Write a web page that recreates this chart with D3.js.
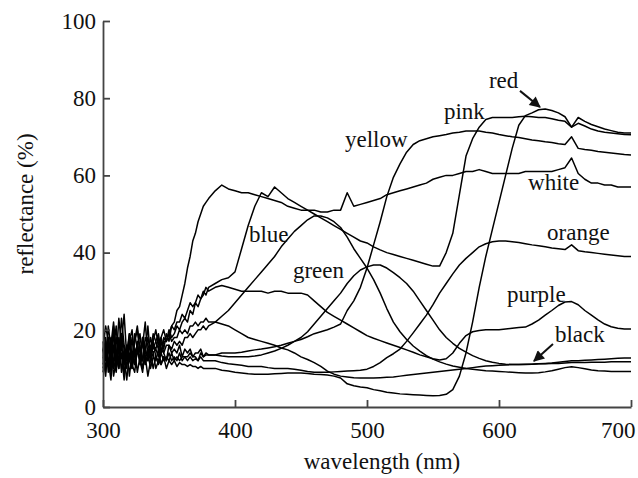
<!DOCTYPE html>
<html>
<head>
<meta charset="utf-8">
<script src="https://cdn.jsdelivr.net/npm/d3@7"></script>
<style>
body { margin: 0; background: #fff; }
svg text { font-family: "Liberation Serif", "DejaVu Serif", "Noto Serif", Times, serif; fill: #111; }
</style>
</head>
<body>
<div id="chart"></div>
<script>
var width = 638,
    height = 478;
var serif = '"Liberation Serif", "DejaVu Serif", "Noto Serif", Times, serif';

// wavelength grid (nm): 2 nm steps through the noisy UV part, 5 nm after that
var wavelengths = d3.range(300, 381, 2).concat(d3.range(385, 701, 5));

// reflectance (%), one value per wavelength
var white = [13,18,11,16,22,14,12,19,15,10,17,20,13,16,19,12,15,18,14,17,20,16,18,15,19,17,21,22,25,26,29,32,36,39,43,45,48,50,52,53,54,
  56,57.5,56.5,56,55.5,55.5,55,54.5,54,53.5, 53,52,51.5,51,51,51,50.5,50.5,51,51,
  55.5,52,52.5,53,53.5,54,55,55.5,56,56.5, 57,57.5,58,59,59.5,60,60,60.5,61,61,
  61.5,61,60.5,60.5,60.5,60.5,60.5,61,61,61, 61,61,61.5,62,64.5,60.5,59,58,58,57.5, 57.5,57,57,57];

var pink = [17,12,21,15,10,18,14,23,16,12,19,11,17,20,14,16,22,13,18,15,17,19,14,18,17,20,18,19,21,20,22,23,22,25,24,27,26,28,30,29,31,
  32,33,33.5,35,41,47,52,55.5,54.5,57, 55.5,54,53,52,51,50,49,48,47,46,
  45,44,43,42.5,41.5,40.7,40,39.5,39,38.5, 38,37.5,37,36.5,36.5,40,45,55,65,69.5,
  72.5,74.5,75,75,75,75,75.2,75.3,75.2,75, 75,74.7,74.3,74,72.5,73.5,72.8,72,71.5,71.2, 71,70.8,70.6,70.5];

var red = [9,14,11,16,8,12,15,10,13,7,14,11,9,15,12,10,13,8,12,14,10,12,11,13,10,12,11,12,10.5,11.5,11,11,10.5,11,10.5,10.5,10,10.5,10,10,10,
  10,9.5,9.3,9,8.8,8.6,8.5,8.5,8.5,8.6, 8.7,8.8,8.8,8.8,8.7,8.5,8.4,8.3,8,7.5,
  6,5.5,5.2,5,4.5,4.2,3.8,3.6,3.4,3.3, 3.2,3.1,3,2.9,3,3.3,4.5,8,14,22,
  31,39,46,53,60,67,73,75.5,76.2,77, 77.2,76.8,76.2,75.2,72.5,75,74,73.2,72.6,72, 71.6,71.2,71,71];

var yellow = [13,8,18,11,15,21,10,14,7,16,12,10,15,9,13,17,11,14,10,13,12,15,11,13,12,14,12,13,12,14,12,13,13,14,13,13,12,14,13,13.5,13.5,
  13.5,14,14,14,14.2,14.5,14.8,15,15.3,15.6, 16,16.5,17,17.5,18.2,19,19.5,20,20.7,21.5,
  25,27.5,31,36,42,48,54.5,59.5,63,66, 68,69,69.5,70,70.3,70.6,71,71.2,71.5,71.5,
  71.5,71.2,71,70.6,70.3,70,69.8,69.5,69.2,69, 68.7,68.5,68.2,68,70,67,66.7,66.5,66.2,66, 65.8,65.6,65.4,65.3];

var blue = [15,10,14,18,12,9,16,19,12,13,17,10,14,16,11,18,13,12,16,14,15,13,17,14,16,16,15,17,16,17,16,18,18,19,18,19,20,20,21,20,21,
  22,23.5,25,27,29,31,33,35,37,39, 41.5,43.5,45.5,47,48.5,49.5,49.5,49,48,46.5,
  44,41,38.5,36,33,29.5,25.5,22,19.5,17.5, 15.8,14.5,13.3,12.4,11.7,11.1,10.6,10.3,10,9.8,
  9.6,9.4,9.3,9.2,9.1,9,8.9,8.8,8.8,8.9, 9.1,9.4,9.8,10.2,10.4,10.2,9.9,9.6,9.4,9.3, 9.2,9.2,9.2,9.2];

var green = [11,17,9,14,19,10,13,16,8,15,12,18,11,14,16,10,13,15,12,17,13,12,15,14,12,16,14,15,14,16,13,15,14,15,13,14,14,15,13,14,13.5,
  13.5,13.2,13,13,13,13,13.2,13.5,14,14.5, 15.2,16,17,18,19.5,21.5,23.5,25.5,27.5,29.5,
  32,34,35.5,36.3,36.8,36.8,36,34.8,33.5,32, 30,27.5,25,22.5,20,18,16.5,15.2,14.2,13.3,
  12.6,12,11.6,11.3,11.1,11,11,11,11.1,11.2, 11.3,11.4,11.6,11.8,12,12,12.1,12.2,12.3,12.4, 12.5,12.6,12.7,12.7];

var black = [15,9,18,13,21,14,10,17,24,13,16,11,19,15,12,18,14,21,13,16,15,18,14,17,17,19,17,18,18,20,19,20,19,21,21,22,21,22,22,23,22,
  22,21.5,21,20,19,18,17.5,17,16.5,16, 15.3,14.8,14,13,12.3,11.5,10.5,9.3,8.5,8,
  7.8,7.6,7.5,7.5,7.5,7.6,7.7,7.8,8,8.2, 8.4,8.6,8.8,9,9.2,9.4,9.6,9.8,10,10.2,
  10.4,10.6,10.7,10.8,10.9,11,11,11.1,11.1,11.2, 11.2,11.3,11.3,11.4,11.5,11.5,11.5,11.6,11.6,11.6, 11.7,11.7,11.7,11.7];

var purple = [15,21,17,9,20,12,23,16,11,14,19,13,17,21,15,12,18,16,14,19,17,15,18,20,17,19,21,20,22,22,24,23,25,27,26,27,29,28,29,31,30,
  31,31.5,31,30.5,30,30,30,30,29.5,30, 30,29.5,29.5,29.5,29,27.5,26,24.5,23.5,22.5,
  21.5,20.5,19.5,18.5,17.8,17.2,16.6,16,15.4,14.8, 14.2,13.5,13,12.5,12.2,12.5,14,16.5,18.5,19.5,
  19.8,20,20,20,20.2,20.4,20.6,20.7,21.5,22.5, 23.8,25,26.3,27.2,27.3,26.5,25,23.8,22.6,21.5, 20.8,20.4,20.2,20.2];

var orange = [10,15,12,7,16,11,18,9,13,16,8,14,11,17,12,9,15,12,14,10,13,11,14,12,13,12,14,12,13,12,13,13,12,13,12,12.5,12,13,12,12,12,
  12,11.5,11.2,11,10.8,10.5,10.5,10.5,10.2,10, 10,10,9.8,9.5,9.2,9,9,9,9.1,9.2,
  9.3,9.4,9.5,9.8,10.5,11.5,12.8,13.8,15,17, 19.2,21.5,23.8,26.5,29.5,32,34.5,36.8,38.5,40,
  41.5,42.3,42.8,43,43,42.8,42.6,42.3,42,41.8, 41.5,41.2,41,40.8,42,40.5,40.2,40,39.8,39.6, 39.4,39.2,39,39];

var curves = [
  {name: "white", values: white},
  {name: "pink", values: pink},
  {name: "red", values: red},
  {name: "yellow", values: yellow},
  {name: "blue", values: blue},
  {name: "green", values: green},
  {name: "black", values: black},
  {name: "purple", values: purple},
  {name: "orange", values: orange}
];

// curve labels, placed in data units (nm, %) at the text start / baseline
var labelNames = ["red", "pink", "yellow", "white", "orange", "blue", "green", "purple", "black"];
var labelX = [592.4, 558.3, 483.3, 622, 636.4, 410.6, 443.9, 606, 642.4];
var labelY = [82.6, 74.6, 67.4, 56.2, 43.3, 42.7, 33.4, 27.2, 16.8];

// pointer arrows [from nm, from %, to nm, to %]
var arrows = [[615.9, 81.9, 631, 77.7], [640.9, 16.3, 626.5, 11.9]];

var xTicks = [300, 400, 500, 600, 700];
var yTicks = [0, 20, 40, 60, 80, 100];

var svg = d3.select("#chart").append("svg")
    .attr("width", width)
    .attr("height", height);

var x = d3.scaleLinear().domain([300, 700]).range([103, 631]);
var y = d3.scaleLinear().domain([0, 100]).range([407, 21]);

svg.append("defs").append("marker")
    .attr("id", "arrowhead")
    .attr("viewBox", "0 0 10 10")
    .attr("refX", 9)
    .attr("refY", 5)
    .attr("markerUnits", "userSpaceOnUse")
    .attr("markerWidth", 13)
    .attr("markerHeight", 11)
    .attr("orient", "auto")
    .append("path")
    .attr("d", "M0,0L10,5L0,10z")
    .attr("fill", "#111");

// spectra
var line = d3.line()
    .x(function (d, i) { return x(wavelengths[i]); })
    .y(function (d) { return y(d); });

svg.append("g").selectAll("path")
    .data(curves)
    .enter().append("path")
    .attr("d", function (d) { return line(d.values); })
    .attr("fill", "none")
    .attr("stroke", "#000")
    .attr("stroke-width", 1.5)
    .attr("stroke-linejoin", "round");

// axes, ticks pointing inwards
var xAxis = svg.append("g")
    .attr("transform", "translate(0," + y(0) + ")")
    .call(d3.axisBottom(x).tickValues(xTicks).tickSize(-7).tickSizeOuter(0).tickPadding(15));

var yAxis = svg.append("g")
    .attr("transform", "translate(" + x(300) + ",0)")
    .call(d3.axisLeft(y).tickValues(yTicks).tickSize(-7).tickSizeOuter(0).tickPadding(7));

[xAxis, yAxis].forEach(function (g) {
    g.attr("font-family", serif);
    g.select(".domain").attr("stroke", "#444").attr("stroke-width", 1.8);
    g.selectAll(".tick line").attr("stroke", "#444").attr("stroke-width", 1.8);
    g.selectAll(".tick text")
        .attr("fill", "#111")
        .style("font-family", serif)
        .style("font-size", "23px");
});

// last x label is pulled in so it stays inside the picture
xAxis.selectAll(".tick text")
    .filter(function (d) { return d === 700; })
    .attr("text-anchor", "end")
    .attr("x", 4);

svg.append("text")
    .attr("x", 382)
    .attr("y", 469)
    .attr("text-anchor", "middle")
    .style("font-family", serif)
    .style("font-size", "23px")
    .text("wavelength (nm)");

svg.append("text")
    .attr("transform", "translate(33,204) rotate(-90)")
    .attr("text-anchor", "middle")
    .style("font-family", serif)
    .style("font-size", "23px")
    .text("reflectance (%)");

// curve labels
svg.append("g").selectAll("text")
    .data(labelNames)
    .enter().append("text")
    .attr("x", function (d, i) { return x(labelX[i]); })
    .attr("y", function (d, i) { return y(labelY[i]); })
    .style("font-family", serif)
    .style("font-size", "23px")
    .text(function (d) { return d; });

svg.append("g").selectAll("line")
    .data(arrows)
    .enter().append("line")
    .attr("x1", function (d) { return x(d[0]); })
    .attr("y1", function (d) { return y(d[1]); })
    .attr("x2", function (d) { return x(d[2]); })
    .attr("y2", function (d) { return y(d[3]); })
    .attr("stroke", "#111")
    .attr("stroke-width", 2)
    .attr("marker-end", "url(#arrowhead)");
</script>
</body>
</html>
